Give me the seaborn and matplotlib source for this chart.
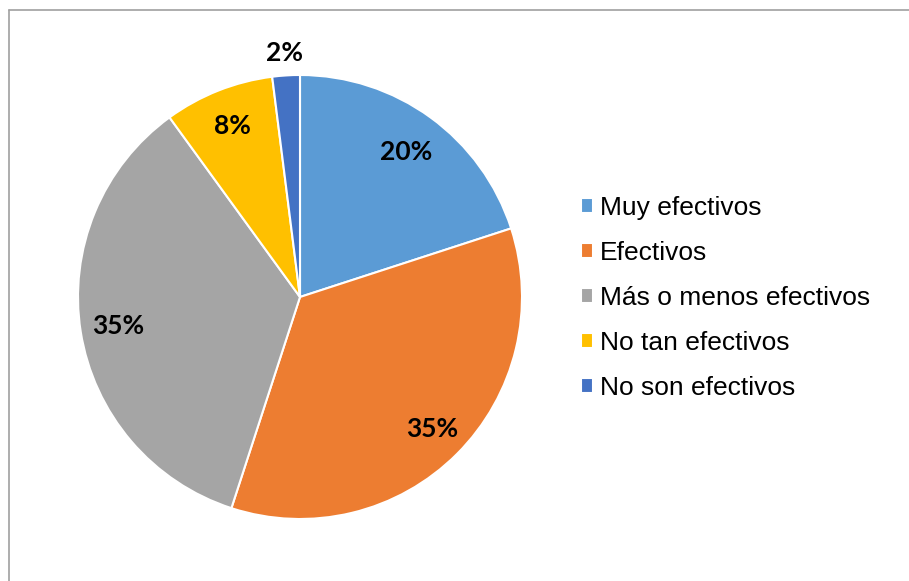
import matplotlib
matplotlib.use("Agg")
import matplotlib.pyplot as plt
from matplotlib.lines import Line2D
import numpy as np
import seaborn as sns

categories = ["Muy efectivos", "Efectivos", "Más o menos efectivos",
              "No tan efectivos", "No son efectivos"]
values = [20, 35, 35, 8, 2]
labels = ["20%", "35%", "35%", "8%", "2%"]
colors = ["#5B9BD5", "#ED7D31", "#A5A5A5", "#FFC000", "#4472C4"]

sns.set_theme(style="white")
plt.rcParams["font.family"] = ["Liberation Sans", "DejaVu Sans"]
plt.rcParams["text.color"] = "black"

W, H = 909, 581
fig = plt.figure(figsize=(W / 100, H / 100), dpi=100)

# pie axes: centre (300, 297) px, radius 222 px
cx, cy, r = 300, 297, 222
ax = fig.add_axes([(cx - r) / W, (H - cy - r) / H, 2 * r / W, 2 * r / H])
wedges, _ = ax.pie(values, colors=colors, startangle=90, counterclock=False,
                   radius=1.0,
                   wedgeprops=dict(edgecolor="white", linewidth=1.5))
ax.set_xlim(-1, 1)
ax.set_ylim(-1, 1)
ax.set_aspect("equal")
ax.axis("off")

# percentage labels at each wedge's mid-angle
dists = [0.81, 0.84, 0.83, 0.83, 1.10]
for w, lab, d in zip(wedges, labels, dists):
    ang = np.deg2rad((w.theta1 + w.theta2) / 2)
    ax.text(d * np.cos(ang), d * np.sin(ang), lab, ha="center", va="center",
            fontsize=19, fontweight="bold", family=["Lato", "DejaVu Sans"],
            color="black")

leg = fig.legend(wedges, categories, loc="center left",
                 bbox_to_anchor=(570 / W, 1 - 298 / H), frameon=False,
                 fontsize=19, handlelength=0.48, handleheight=0.48,
                 handletextpad=0.25, labelspacing=0.8, borderaxespad=0,
                 labelcolor="black")

# chart frame (left and top edges)
x0, y0 = 8.5 / W, 1 - 10 / H
fig.add_artist(Line2D([x0, x0], [0, y0], color="#A0A0A0", lw=1.2,
                      transform=fig.transFigure))
fig.add_artist(Line2D([x0, 1], [y0, y0], color="#A0A0A0", lw=1.2,
                      transform=fig.transFigure))

fig.savefig("out.png", dpi=100, facecolor="white")
